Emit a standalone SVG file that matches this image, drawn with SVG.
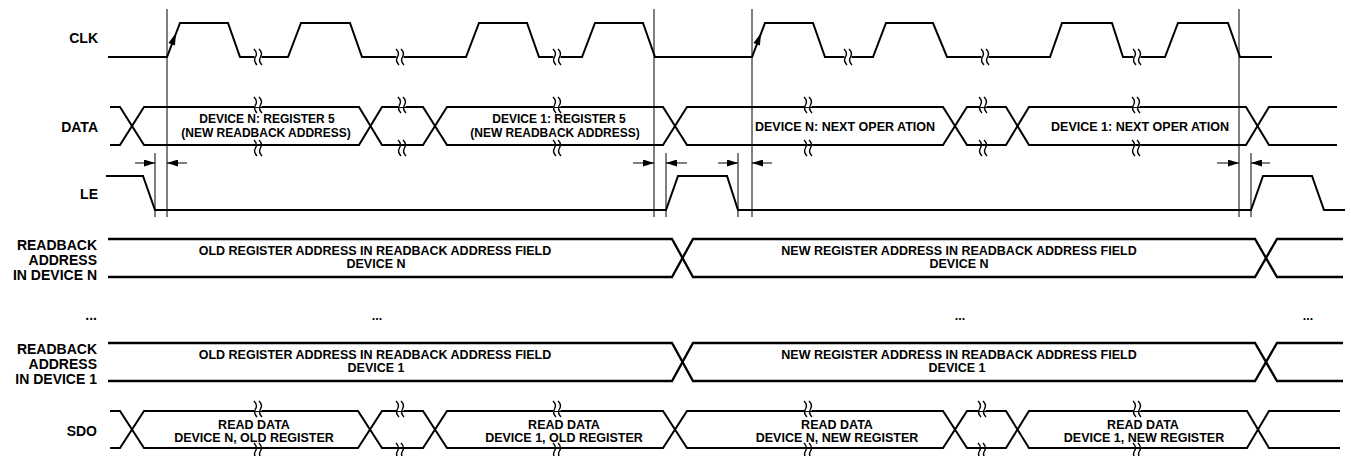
<svg xmlns="http://www.w3.org/2000/svg" xmlns:xlink="http://www.w3.org/1999/xlink" width="1351" height="456" viewBox="0 0 1351 456">
<style>
.sig{fill:none;stroke:#000;stroke-width:2;stroke-linejoin:miter}
.bus{fill:none;stroke:#000;stroke-width:2.3;stroke-linejoin:miter}
.thin{fill:none;stroke:#000;stroke-width:1}
.lbl{font-family:"Liberation Sans",Arial,sans-serif;font-weight:bold;font-size:14px;fill:#000;text-anchor:end}
.txt{font-family:"Liberation Sans",Arial,sans-serif;font-weight:bold;font-size:12.5px;fill:#000;text-anchor:middle}
.sm{font-size:12px}
.brk path{fill:none;stroke:#000;stroke-width:1.4}
</style>
<defs>
<g id="brk" class="brk">
<rect x="-3.5" y="-2" width="7" height="4" fill="#fff"/>
<path d="M-4,-8 Q0,-4 -2.5,0 Q-5,4 -1,8"/>
<path d="M1,-8 Q5,-4 2.5,0 Q0,4 4,8"/>
</g>
<path id="edgeArrow" d="M0,0 L-12,-3.5 L-12,3.5 Z" fill="#000"/>
<marker id="ah" viewBox="0 0 11 7" refX="11" refY="3.5" markerWidth="11" markerHeight="7" orient="auto" markerUnits="userSpaceOnUse">
<path d="M0,0 L11,3.5 L0,7 Z" fill="#000"/>
</marker>
</defs>
<rect width="1351" height="456" fill="#fff"/>

<g id="clk">
<text class="lbl" x="98" y="43">CLK</text>
<path class="sig" d="M108,57 H167 L180,23 H228 L240,57 H288 L301,23 H350 L362,57 H466 L479,23 H527 L539,57 H582 L595,23 H643 L655,57 H752 L765,23 H813 L825,57 H873 L886,23 H933 L947,57 H1050 L1062,23 H1112 L1123,57 H1165 L1178,23 H1228 L1240,57 H1272"/>
<use xlink:href="#brk" x="258" y="57"/>
<use xlink:href="#brk" x="400" y="57"/>
<use xlink:href="#brk" x="557" y="57"/>
<use xlink:href="#brk" x="848" y="57"/>
<use xlink:href="#brk" x="985" y="57"/>
<use xlink:href="#brk" x="1137" y="57"/>
<use xlink:href="#edgeArrow" transform="translate(176,33) rotate(-69)"/>
<use xlink:href="#edgeArrow" transform="translate(761,33) rotate(-69)"/>
</g>

<g id="data">
<text class="lbl" x="98" y="132">DATA</text>
<path class="sig" d="M110,107 H120 L144,145 H359 L382,107 H423 L447,145 H663 L687,107 H943 L967,145 H1006 L1029,107 H1246 L1269,145 H1337"/>
<path class="sig" d="M110,145 H120 L144,107 H359 L382,145 H423 L447,107 H663 L687,145 H943 L967,107 H1006 L1029,145 H1246 L1269,107 H1337"/>
<use xlink:href="#brk" x="258" y="105"/>
<use xlink:href="#brk" x="402" y="105"/>
<use xlink:href="#brk" x="557" y="105"/>
<use xlink:href="#brk" x="808" y="105"/>
<use xlink:href="#brk" x="983" y="105"/>
<use xlink:href="#brk" x="1136" y="105"/>
<use xlink:href="#brk" x="258" y="148"/>
<use xlink:href="#brk" x="402" y="148"/>
<use xlink:href="#brk" x="557" y="148"/>
<use xlink:href="#brk" x="808" y="148"/>
<use xlink:href="#brk" x="983" y="148"/>
<use xlink:href="#brk" x="1136" y="148"/>
<text class="txt sm" x="267" y="123">DEVICE N: REGISTER 5</text>
<text class="txt sm" x="266" y="136.5">(NEW READBACK ADDRESS)</text>
<text class="txt sm" x="559" y="123">DEVICE 1: REGISTER 5</text>
<text class="txt sm" x="555" y="136.5">(NEW READBACK ADDRESS)</text>
<text class="txt" x="845" y="131" dx="0 0 0 0 0 0 0 0 0 0 0 0 0 0 0 0 0 0 0 3">DEVICE N: NEXT OPERATION</text>
<text class="txt" x="1140" y="131" dx="0 0 0 0 0 0 0 0 0 0 0 0 0 0 0 0 0 0 0 3">DEVICE 1: NEXT OPERATION</text>
</g>

<g id="le">
<text class="lbl" x="98" y="199">LE</text>
<path class="sig" d="M106,176 H143 L155,210 H666 L678,176 H727 L738,210 H1251 L1263,176 H1312 L1324,210 H1345"/>
</g>

<g id="readback-n">
<text class="lbl" x="97" y="250">READBACK</text>
<text class="lbl" x="97" y="265">ADDRESS</text>
<text class="lbl" x="97" y="280">IN DEVICE N</text>
<path class="bus" d="M108,239 H672 L693,277 H1255 L1277,239 H1343"/>
<path class="bus" d="M108,277 H672 L693,239 H1255 L1277,277 H1343"/>
<text class="txt" x="375" y="255">OLD REGISTER ADDRESS IN READBACK  ADDRESS FIELD</text>
<text class="txt" x="376" y="268">DEVICE N</text>
<text class="txt" x="959" y="255">NEW REGISTER ADDRESS IN READBACK  ADDRESS FIELD</text>
<text class="txt" x="959" y="268">DEVICE N</text>
</g>

<g id="ellipsis">
<text class="lbl" x="97" y="320">...</text>
<text class="txt" x="377" y="320">...</text>
<text class="txt" x="960" y="320">...</text>
<text class="txt" x="1308" y="320">...</text>
</g>

<g id="readback-1">
<text class="lbl" x="97" y="354">READBACK</text>
<text class="lbl" x="97" y="369">ADDRESS</text>
<text class="lbl" x="97" y="384">IN DEVICE 1</text>
<path class="bus" d="M108,343 H672 L693,381 H1255 L1277,343 H1343"/>
<path class="bus" d="M108,381 H672 L693,343 H1255 L1277,381 H1343"/>
<text class="txt" x="375" y="359">OLD REGISTER ADDRESS IN READBACK  ADDRESS FIELD</text>
<text class="txt" x="376" y="372">DEVICE 1</text>
<text class="txt" x="959" y="359">NEW REGISTER ADDRESS IN READBACK  ADDRESS FIELD</text>
<text class="txt" x="957" y="372">DEVICE 1</text>
</g>

<g id="sdo">
<text class="lbl" x="97" y="436">SDO</text>
<path class="sig" d="M110,411 H120 L144,448 H358 L382,411 H423 L447,448 H663 L687,411 H943 L967,448 H1006 L1029,411 H1247 L1269,448 H1340"/>
<path class="sig" d="M110,448 H120 L144,411 H358 L382,448 H423 L447,411 H663 L687,448 H943 L967,411 H1006 L1029,448 H1247 L1269,411 H1340"/>
<use xlink:href="#brk" x="258" y="409"/>
<use xlink:href="#brk" x="400" y="409"/>
<use xlink:href="#brk" x="557" y="409"/>
<use xlink:href="#brk" x="808" y="409"/>
<use xlink:href="#brk" x="982" y="409"/>
<use xlink:href="#brk" x="1137" y="409"/>
<use xlink:href="#brk" x="258" y="451"/>
<use xlink:href="#brk" x="400" y="451"/>
<use xlink:href="#brk" x="557" y="451"/>
<use xlink:href="#brk" x="808" y="451"/>
<use xlink:href="#brk" x="982" y="451"/>
<use xlink:href="#brk" x="1137" y="451"/>
<text class="txt" x="254" y="429">READ DATA</text>
<text class="txt" x="254" y="442">DEVICE N, OLD REGISTER</text>
<text class="txt" x="564" y="429">READ DATA</text>
<text class="txt" x="564" y="442">DEVICE 1, OLD REGISTER</text>
<text class="txt" x="837" y="429">READ DATA</text>
<text class="txt" x="837" y="442">DEVICE N, NEW REGISTER</text>
<text class="txt" x="1143" y="429">READ DATA</text>
<text class="txt" x="1144" y="442">DEVICE 1, NEW REGISTER</text>
</g>

<g id="connectors">
<line class="thin" x1="167" y1="9" x2="167" y2="217"/>
<line class="thin" x1="654" y1="9" x2="654" y2="217"/>
<line class="thin" x1="752" y1="9" x2="752" y2="217"/>
<line class="thin" x1="1239" y1="9" x2="1239" y2="217"/>
<line class="thin" x1="155" y1="153" x2="155" y2="217"/>
<line class="thin" x1="666" y1="153" x2="666" y2="217"/>
<line class="thin" x1="738" y1="153" x2="738" y2="217"/>
<line class="thin" x1="1251" y1="153" x2="1251" y2="217"/>
<line class="thin" x1="135" y1="163" x2="155" y2="163" marker-end="url(#ah)"/>
<line class="thin" x1="187" y1="163" x2="167" y2="163" marker-end="url(#ah)"/>
<line class="thin" x1="633" y1="163" x2="654" y2="163" marker-end="url(#ah)"/>
<line class="thin" x1="687" y1="163" x2="666" y2="163" marker-end="url(#ah)"/>
<line class="thin" x1="718" y1="163" x2="738" y2="163" marker-end="url(#ah)"/>
<line class="thin" x1="772" y1="163" x2="752" y2="163" marker-end="url(#ah)"/>
<line class="thin" x1="1217" y1="163" x2="1239" y2="163" marker-end="url(#ah)"/>
<line class="thin" x1="1270" y1="163" x2="1251" y2="163" marker-end="url(#ah)"/>
</g>
</svg>
